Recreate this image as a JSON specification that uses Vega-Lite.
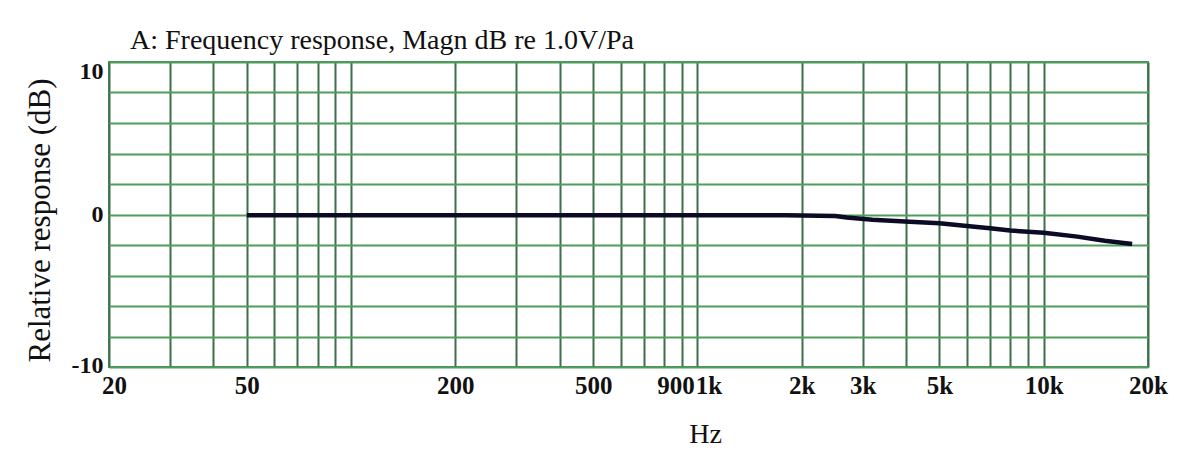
{
  "$schema": "https://vega.github.io/schema/vega-lite/v6.json",
  "autosize": {"type": "none"},
  "width": 1039,
  "height": 305,
  "padding": {"left": 109, "top": 62, "right": 52, "bottom": 95},
  "background": "white",
  "title": {
    "text": "A: Frequency response, Magn dB re 1.0V/Pa",
    "anchor": "start",
    "frame": "group",
    "dx": 21,
    "offset": 4,
    "font": "Liberation Serif",
    "fontSize": 28,
    "fontWeight": "normal",
    "color": "#111111"
  },
  "config": {
    "view": {"stroke": "#4a8f62", "strokeWidth": 2},
    "axis": {
      "domain": false,
      "ticks": false,
      "grid": true,
      "gridWidth": 2,
      "gridOpacity": 1,
      "labelFont": "Liberation Serif",
      "labelFontWeight": "bold",
      "labelColor": "#111111",
      "titleFont": "Liberation Serif",
      "titleFontWeight": "normal",
      "titleColor": "#111111"
    }
  },
  "data": {
    "values": [
      {"f": 50, "db": -0.05},
      {"f": 100, "db": -0.05},
      {"f": 500, "db": -0.05},
      {"f": 1000, "db": -0.05},
      {"f": 1800, "db": -0.05},
      {"f": 2500, "db": -0.1},
      {"f": 2700, "db": -0.2},
      {"f": 3200, "db": -0.35},
      {"f": 4100, "db": -0.47},
      {"f": 5000, "db": -0.58},
      {"f": 6000, "db": -0.75},
      {"f": 7000, "db": -0.9},
      {"f": 8000, "db": -1.05},
      {"f": 10000, "db": -1.19},
      {"f": 12500, "db": -1.45},
      {"f": 15000, "db": -1.72},
      {"f": 18000, "db": -1.93}
    ]
  },
  "mark": {"type": "line", "color": "#0b0b26", "strokeWidth": 4.5},
  "encoding": {
    "x": {
      "field": "f",
      "type": "quantitative",
      "scale": {"type": "log", "domain": [20, 20000], "nice": false},
      "axis": {
        "title": "Hz",
        "titleFontSize": 28,
        "titleX": 596,
        "titleY": 53,
        "titleAnchor": null,
        "titleAlign": "center",
        "titleBaseline": "top",
        "gridColor": "#3f6f4a",
        "labelFontSize": 25,
        "values": [20, 30, 40, 50, 60, 70, 80, 90, 100, 200, 300, 400, 500, 600, 700, 800, 900, 1000, 2000, 3000, 4000, 5000, 6000, 7000, 8000, 9000, 10000, 20000],
        "labelExpr": "indexof([20,50,200,500,900,1000,2000,3000,5000,10000,20000], datum.value) >= 0 ? (datum.value >= 1000 ? (datum.value / 1000) + 'k' : datum.value + '') : ''",
        "labelOffset": {"expr": "datum.value == 900 ? -6 : datum.value == 1000 ? 11 : datum.value == 20 ? 5 : 0"},
        "labelOverlap": false,
        "labelPadding": 6,
        "labelFlush": false,
        "labelBound": false
      }
    },
    "y": {
      "field": "db",
      "type": "quantitative",
      "scale": {"domain": [-10, 10], "nice": false, "zero": false},
      "axis": {
        "title": "Relative response (dB)",
        "titleFontSize": 31,
        "titleX": -69,
        "titleY": 158,
        "titleAngle": -90,
        "titleAlign": "center",
        "titleBaseline": "middle",
        "gridColor": "#4f9d5a",
        "labelFontSize": 24,
        "values": [-10, -8, -6, -4, -2, 0, 2, 4, 6, 8, 10],
        "labelExpr": "datum.value == 10 || datum.value == 0 || datum.value == -10 ? datum.value + '' : ''",
        "labelOffset": {"expr": "datum.value == 10 ? 9 : datum.value == -10 ? -2 : 0"},
        "labelOverlap": false,
        "labelPadding": 6,
        "labelFlush": false,
        "labelBound": false
      }
    }
  }
}
